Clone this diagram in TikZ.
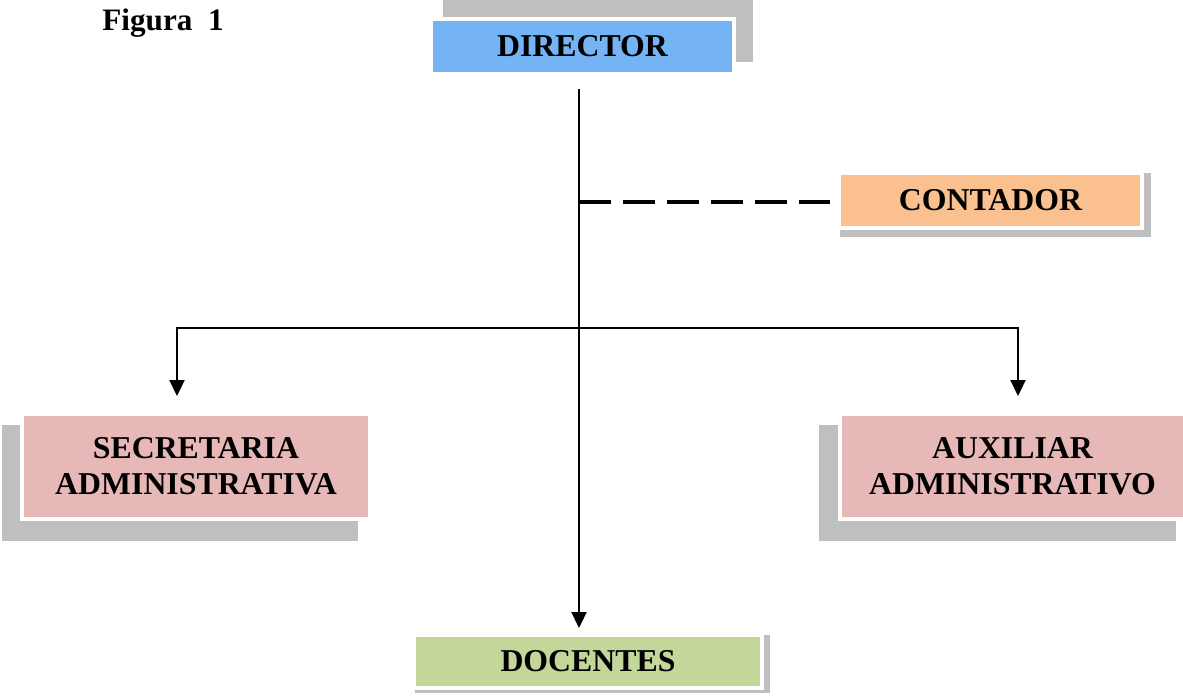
\documentclass[tikz,border=0pt]{standalone}
\usepackage{fontspec}
\setmainfont{Liberation Serif}
\usetikzlibrary{arrows.meta, positioning}

\definecolor{azul}{RGB}{116,179,244}
\definecolor{naranja}{RGB}{250,192,143}
\definecolor{rosa}{RGB}{230,184,183}
\definecolor{verde}{RGB}{196,215,155}
\definecolor{sombra}{RGB}{191,191,191}

\tikzset{
  cargo/.style = {draw = white, line width = 2pt, inner sep = 0pt, align = center,
    font = \fontsize{15.9}{18}\selectfont\bfseries},
  linea/.style = {line width = 1.1pt},
  flecha/.style = {linea, -{Triangle[length = 8pt, width = 7.5pt]}},
  asesor/.style = {line width = 1.8pt, dash pattern = on 15.8pt off 6.2pt}
}

\begin{document}
\begin{tikzpicture}[x = 0.5pt, y = -0.5pt]
			\useasboundingbox (0, 0) rectangle (1183, 698);
			% shadows
			\fill[sombra] (443, 0) rectangle (753, 62);
			\fill[sombra] (840, 173) rectangle (1151, 237);
			\fill[sombra] (2, 425) rectangle (358, 541);
			\fill[sombra] (819, 425) rectangle (1176, 541);
			\fill[sombra] (415, 635) rectangle (770, 693);
			% title
			\node[anchor = base west, font = \fontsize{15.6}{18}\selectfont\bfseries, inner sep = 0pt] (figura) at (102, 30) {Figura\ \ 1};
			% boxes
			\node[cargo, fill = azul, minimum width = 151.5pt, minimum height = 27.5pt] (director) at (582.5, 46.5) {DIRECTOR};
			\node[cargo, fill = naranja, minimum width = 151.5pt, minimum height = 27.5pt] (contador) at (990.5, 200.5) {CONTADOR};
			\node[cargo, fill = rosa, minimum width = 174pt, minimum height = 52.5pt] (secretaria) at (196, 466.5) {SECRETARIA\\ADMINISTRATIVA};
			\node[cargo, fill = rosa, minimum width = 172.5pt, minimum height = 52.5pt] (auxiliar) at (1012.5, 466.5) {AUXILIAR\\ADMINISTRATIVO};
			\node[cargo, fill = verde, minimum width = 174pt, minimum height = 26.5pt] (docentes) at (588, 661.5) {DOCENTES};
			% trunk
			\coordinate (tronco) at ([xshift = -1.75pt, yshift = -6.5pt]director.south);
			\coordinate (staff) at (tronco |- 0, 202);
			\coordinate (ramal) at (tronco |- 0, 328);
			\draw[flecha] (tronco) -- ([yshift = 2.5pt]tronco |- docentes.north);
			% staff line
			\draw[asesor] (staff) -- ([xshift = -3.5pt]staff -| contador.west);
			% branches
			\draw[flecha] (ramal) -| ([xshift = -9.5pt, yshift = 8pt]secretaria.north);
			\draw[flecha] (ramal) -| ([xshift = 2.75pt, yshift = 8pt]auxiliar.north);
		\end{tikzpicture}
\end{document}
